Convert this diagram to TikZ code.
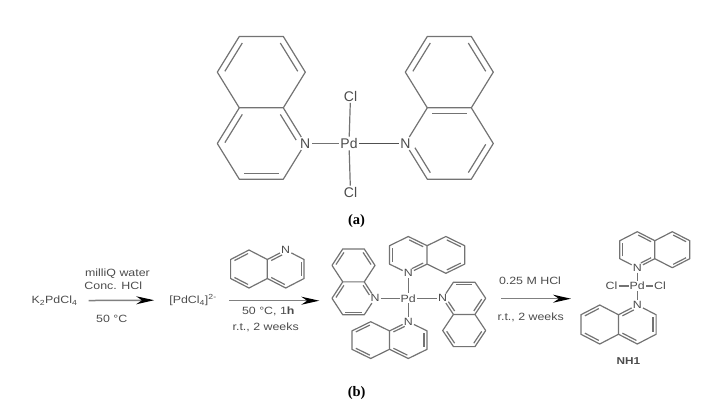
\documentclass[tikz,border=0pt]{standalone}
\usepackage{fontspec}
\usepackage{tikz}
\usetikzlibrary{arrows.meta,calc}
\setmainfont{Liberation Serif}
\newfontfamily\chemfont{Liberation Sans}
\newfontfamily\chemwide[FakeStretch=1.18]{Liberation Sans}
\definecolor{bondgray}{gray}{0.45}
\definecolor{labelgray}{gray}{0.3}

% inner line of a double bond: from, to, ring centre
\newcommand{\dblbond}[4][shorten <=1pt]{
  \draw[bond,shorten >=1pt,#1] ($(#2)!.16!(#4)$) -- ($(#3)!.16!(#4)$);
}
% quinoline skeleton round an N node: node name, scaling and turn
\newcommand{\quinskel}[2]{
  \begin{scope}[shift={(#1.center)},x=1pt,y=1pt,#2]
    \coordinate (#1py) at (-1,0);
    \coordinate (#1bz) at (-1,1.732);
    \coordinate (#1ca) at (-.5,.866);
    \coordinate (#1cb) at (-.5,-.866);
    \coordinate (#1cc) at (-1.5,-.866);
    \coordinate (#1cd) at (-2,0);
    \coordinate (#1ce) at (-1.5,.866);
    \coordinate (#1cf) at (-2,1.732);
    \coordinate (#1cg) at (-1.5,2.598);
    \coordinate (#1ch) at (-.5,2.598);
    \coordinate (#1ci) at (0,1.732);
  \end{scope}
  \draw[bond] (#1) -- (#1ca) -- (#1ce) -- (#1cd) -- (#1cc) -- (#1cb) -- (#1);
  \draw[bond] (#1ca) -- (#1ci) -- (#1ch) -- (#1cg) -- (#1cf) -- (#1ce);
  \dblbond{#1cf}{#1cg}{#1bz}
  \dblbond{#1ch}{#1ci}{#1bz}
}
% the two ways of placing the double bonds
\newcommand{\quinA}[2]{
  \quinskel{#1}{#2}
  \dblbond[shorten <=4pt]{#1}{#1ca}{#1py}
  \dblbond{#1cb}{#1cc}{#1py}
  \dblbond{#1cd}{#1ce}{#1py}
}
\newcommand{\quinB}[2]{
  \quinskel{#1}{#2}
  \dblbond[shorten <=5pt]{#1}{#1cb}{#1py}
  \dblbond{#1cc}{#1cd}{#1py}
  \dblbond{#1ce}{#1ca}{#1py}
}

\begin{document}
\begin{tikzpicture}[x=1pt,y=-1pt,
                    bond/.style={draw = bondgray, line width = 1.2pt, line join = round},
                    atomlg/.style={inner sep = 1.5pt, text = labelgray, font = \chemfont\fontsize{14}{14}\selectfont},
                    atomsm/.style={inner sep = 1pt, text = labelgray, font = \chemwide\fontsize{10.5}{11}\selectfont},
                    condtext/.style={inner sep = 0pt, text = labelgray, font = \chemwide\fontsize{10.5}{11}\selectfont},
                    rxnarr/.style={-{Stealth[length = 18pt, width = 8pt, black]}, line width = 1.5pt, draw = gray},
                    partlabel/.style={inner sep = 0pt, font = \bfseries\fontsize{14.5}{15}\selectfont}]
                    \useasboundingbox (0,0) rectangle (717,418);

                    % (a)
                    \node[atomlg] (pda) at (349,143.5) {Pd};
                    \node[atomlg] (cla) at (350.5,96) {Cl};
                    \node[atomlg] (clb) at (350.5,192.5) {Cl};
                    \node[atomlg] (nal) at (305.3,143.5) {N};
                    \node[atomlg] (nar) at (405.3,143.5) {N};
                    \draw[bond] (nal) -- (pda);
                    \draw[bond, draw = bondgray!70!black] (pda) -- (nar);
                    \draw[bond] (pda) -- (cla);
                    \draw[bond] (pda) -- (clb);
                    \quinA{nal}{xscale=44,yscale=41.2}
                    \quinB{nar}{xscale=-44,yscale=41.2}
                    \node[partlabel] (laba) at (356.5,221) {(a)};

                    % (b) first steps
                    \node[condtext] (kpd) at (54.5,300.7) {K\textsubscript{2}PdCl\textsubscript{4}};
                    \node[condtext] (pdcl) at (193,300) {[PdCl\textsubscript{4}]\textsuperscript{2-}};
                    \coordinate (arrbe) at (319.3,300.7);
                    \draw[rxnarr, shorten <=11pt, shorten >=15pt] (kpd) -- (pdcl);
                    \draw[rxnarr, shorten <=12.5pt] (pdcl.east |- arrbe) -- (arrbe);
                    \node[condtext] (txa) at (117.5,273.7) {milliQ water};
                    \node[condtext] (txb) at (113.3,286) {Conc. HCl};
                    \node[condtext] (txc) at (111.7,319.3) {50 °C};
                    \node[atomsm] (nfr) at (285.7,250) {N};
                    \quinA{nfr}{rotate=90,xscale=19,yscale=21.2}
                    \node[condtext] (txd) at (268.3,311.7) {50 °C, 1\textbf{h}};
                    \node[condtext] (txe) at (265.7,327.7) {r.t., 2 weeks};

                    % (b) tetra complex
                    \node[atomsm] (pdb) at (408.3,298.3) {Pd};
                    \node[atomsm] (nbl) at (375,298.3) {N};
                    \node[atomsm] (nbr) at (442.7,298.3) {N};
                    \node[atomsm] (nbt) at (408.3,273.3) {N};
                    \node[atomsm] (nbb) at (408.3,321.7) {N};
                    \draw[bond] (nbl) -- (pdb);
                    \draw[bond] (nbr) -- (pdb);
                    \draw[bond] (nbt) -- (pdb);
                    \draw[bond] (nbb) -- (pdb);
                    \quinA{nbl}{xscale=21.5,yscale=19}
                    \quinA{nbr}{rotate=180,xscale=21.5,yscale=18.6}
                    \quinA{nbt}{rotate=-90,xscale=18.4,yscale=21.7}
                    \quinA{nbb}{rotate=90,xscale=18.4,yscale=21.7}
                    \node[partlabel] (labb) at (356.7,393) {(b)};

                    % (b) last step
                    \coordinate (arrcs) at (501,298.7);
                    \coordinate (arrce) at (571,298.7);
                    \draw[rxnarr] (arrcs) -- (arrce);
                    \node[condtext] (txf) at (530,281) {0.25 M HCl};
                    \node[condtext] (txg) at (530.7,317.7) {r.t., 2 weeks};
                    \node[atomsm] (pdc) at (637.3,286) {Pd};
                    \node[atomsm] (clc) at (611.5,286) {Cl};
                    \node[atomsm] (cld) at (660,286) {Cl};
                    \node[atomsm] (nct) at (637.3,267.7) {N};
                    \node[atomsm] (ncb) at (637.3,305) {N};
                    \draw[bond] (clc) -- (pdc);
                    \draw[bond] (cld) -- (pdc);
                    \draw[bond] (nct) -- (pdc);
                    \draw[bond] (ncb) -- (pdc);
                    \quinA{nct}{rotate=-90,xscale=18,yscale=20.2}
                    \quinA{ncb}{rotate=90,xscale=19.5,yscale=21.7}
                    \node[condtext, font = \chemwide\bfseries\fontsize{10}{11}\selectfont] (nha) at (628.3,361) {NH1};
\end{tikzpicture}
\end{document}
